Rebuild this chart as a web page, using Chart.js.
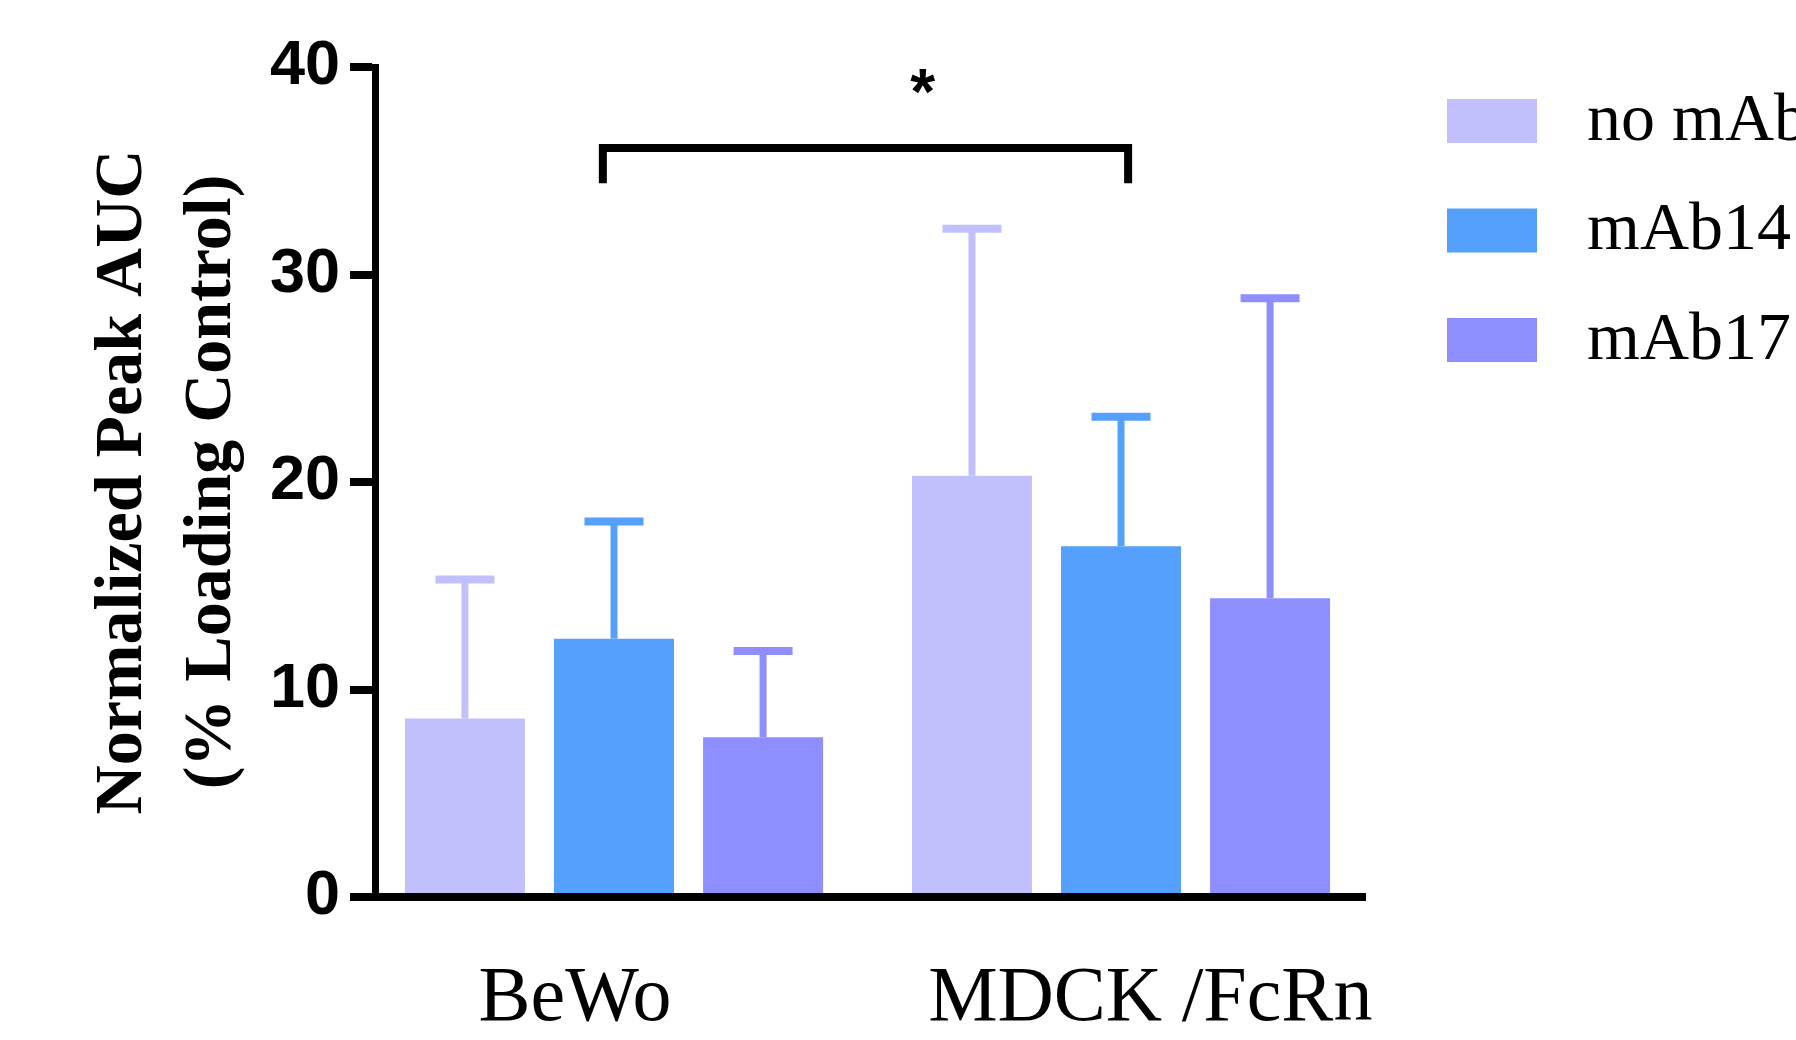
<!DOCTYPE html>
<html>
<head>
<meta charset="utf-8">
<title>Normalized Peak AUC</title>
<script src="https://cdn.jsdelivr.net/npm/chart.js@4.4.1/dist/chart.umd.min.js"></script>
<style>
  html, body { margin: 0; padding: 0; background: #fff; }
  #wrap { width: 1796px; height: 1040px; }
</style>
</head>
<body>
<div id="wrap"><canvas id="chart" width="1796" height="1040"></canvas></div>
<script>
// values (mean, +SD)
const categories = ["BeWo", "MDCK /FcRn"];
const seriesNames = ["no mAb", "mAb14", "mAb17"];
const noMab = [8.6, 20.3];
const mab14 = [12.45, 16.9];
const mab17 = [7.7, 14.4];
const noMabSd = [6.7, 11.9];
const mab14Sd = [5.65, 6.25];
const mab17Sd = [4.15, 14.45];
const yTicks = [0, 10, 20, 30, 40];

// significance bracket BeWo vs MDCK (group position, value)
const bracketX = [-0.022, 1.014];
const bracketY = [34.4, 36.1];
const star = [0.609, 38.6];

const colors = ["#C1C0FD", "#56A0FD", "#8E8EFE"];

const serif = '"Liberation Serif", "Times New Roman", serif';
const sans = '"Liberation Sans", Arial, sans-serif';

// error bars (upper only, same colour as the bar)
const errorBars = {
  id: "errorBars",
  afterDatasetsDraw(chart) {
    const ctx = chart.ctx;
    const y = chart.scales.y;
    chart.data.datasets.forEach((ds, i) => {
      chart.getDatasetMeta(i).data.forEach((bar, j) => {
        const top = y.getPixelForValue(ds.data[j].y + ds.sd[j]);
        ctx.save();
        ctx.strokeStyle = ds.backgroundColor;
        ctx.lineWidth = 7;
        ctx.beginPath();
        ctx.moveTo(bar.x, bar.y);
        ctx.lineTo(bar.x, top);
        ctx.stroke();
        ctx.lineWidth = 8;
        ctx.beginPath();
        ctx.moveTo(bar.x - 29.5, top);
        ctx.lineTo(bar.x + 29.5, top);
        ctx.stroke();
        ctx.restore();
      });
    });
  }
};

// bracket + star
const significance = {
  id: "significance",
  afterDatasetsDraw(chart) {
    const ctx = chart.ctx;
    const {x, y} = chart.scales;
    const x0 = x.getPixelForValue(bracketX[0]);
    const x1 = x.getPixelForValue(bracketX[1]);
    const lo = y.getPixelForValue(bracketY[0]);
    const hi = y.getPixelForValue(bracketY[1]);
    ctx.save();
    ctx.strokeStyle = "#000";
    ctx.lineWidth = 8;
    ctx.lineJoin = "miter";
    ctx.beginPath();
    ctx.moveTo(x0, lo);
    ctx.lineTo(x0, hi);
    ctx.lineTo(x1, hi);
    ctx.lineTo(x1, lo);
    ctx.stroke();
    ctx.fillStyle = "#000";
    ctx.font = "bold 64px " + sans;
    ctx.textAlign = "center";
    ctx.textBaseline = "middle";
    ctx.fillText("*", x.getPixelForValue(star[0]), y.getPixelForValue(star[1]));
    ctx.restore();
  }
};

// legend drawn to the right of the plot
const sideLegend = {
  id: "sideLegend",
  afterDraw(chart) {
    const ctx = chart.ctx;
    const area = chart.chartArea;
    ctx.save();
    ctx.font = "68px " + serif;
    ctx.textBaseline = "middle";
    ctx.textAlign = "left";
    chart.data.datasets.forEach((ds, i) => {
      const cy = area.top + 54 + i * 109.5;
      const bx = area.right + 85;
      ctx.fillStyle = ds.backgroundColor;
      ctx.fillRect(bx, cy - 22, 90, 44);
      ctx.fillStyle = "#000";
      ctx.fillText(ds.label, bx + 140, cy + 1);
    });
    ctx.restore();
  }
};

const toPoints = (vals) => vals.map((v, i) => ({ x: i, y: v }));

const datasets = [
  { label: seriesNames[0], data: toPoints(noMab), sd: noMabSd, backgroundColor: colors[0] },
  { label: seriesNames[1], data: toPoints(mab14), sd: mab14Sd, backgroundColor: colors[1] },
  { label: seriesNames[2], data: toPoints(mab17), sd: mab17Sd, backgroundColor: colors[2] }
];
datasets.forEach(ds => {
  ds.borderWidth = 0;
  ds.categoryPercentage = 0.882;
  ds.barPercentage = 0.805;
});

new Chart(document.getElementById("chart"), {
  type: "bar",
  data: { datasets: datasets },
  options: {
    responsive: false,
    animation: false,
    layout: { padding: { top: 67, right: 434, bottom: 0, left: 0 } },
    plugins: {
      legend: { display: false },
      tooltip: { enabled: false }
    },
    scales: {
      x: {
        type: "linear",
        min: -0.4714,
        max: 1.4753,
        offset: false,
        afterBuildTicks: (scale) => { scale.ticks = categories.map((c, i) => ({ value: i })); },
        grid: { display: true, drawOnChartArea: false, drawTicks: false, lineWidth: 8, color: "#000" },
        border: { display: true, width: 8, color: "#000" },
        ticks: {
          autoSkip: false,
          maxRotation: 0,
          padding: 56,
          color: "#000",
          font: { family: serif, size: 78, lineHeight: 1.2 },
          // labels in the figure sit a little off the group centres
          callback: (v) => v === 0 ? categories[0] + "    " : "   " + categories[1]
        },
        afterFit: (scale) => { scale.height = 143; }
      },
      y: {
        min: 0,
        max: 40,
        afterBuildTicks: (scale) => { scale.ticks = yTicks.map(v => ({ value: v })); },
        grid: { display: true, drawOnChartArea: false, drawTicks: true, tickLength: 25, lineWidth: 8, color: "#000" },
        border: { display: true, width: 7, color: "#000" },
        ticks: {
          padding: 10,
          color: "#000",
          font: { family: sans, size: 63, weight: "bold" }
        },
        title: {
          display: true,
          text: ["Normalized Peak AUC", "(% Loading Control)"],
          color: "#000",
          font: { family: serif, size: 68, weight: "bold", lineHeight: 1.31 },
          padding: { top: 78.5, bottom: 0 }
        },
        afterFit: (scale) => { scale.width = 375; }
      }
    }
  },
  plugins: [errorBars, significance, sideLegend]
});
</script>
</body>
</html>
